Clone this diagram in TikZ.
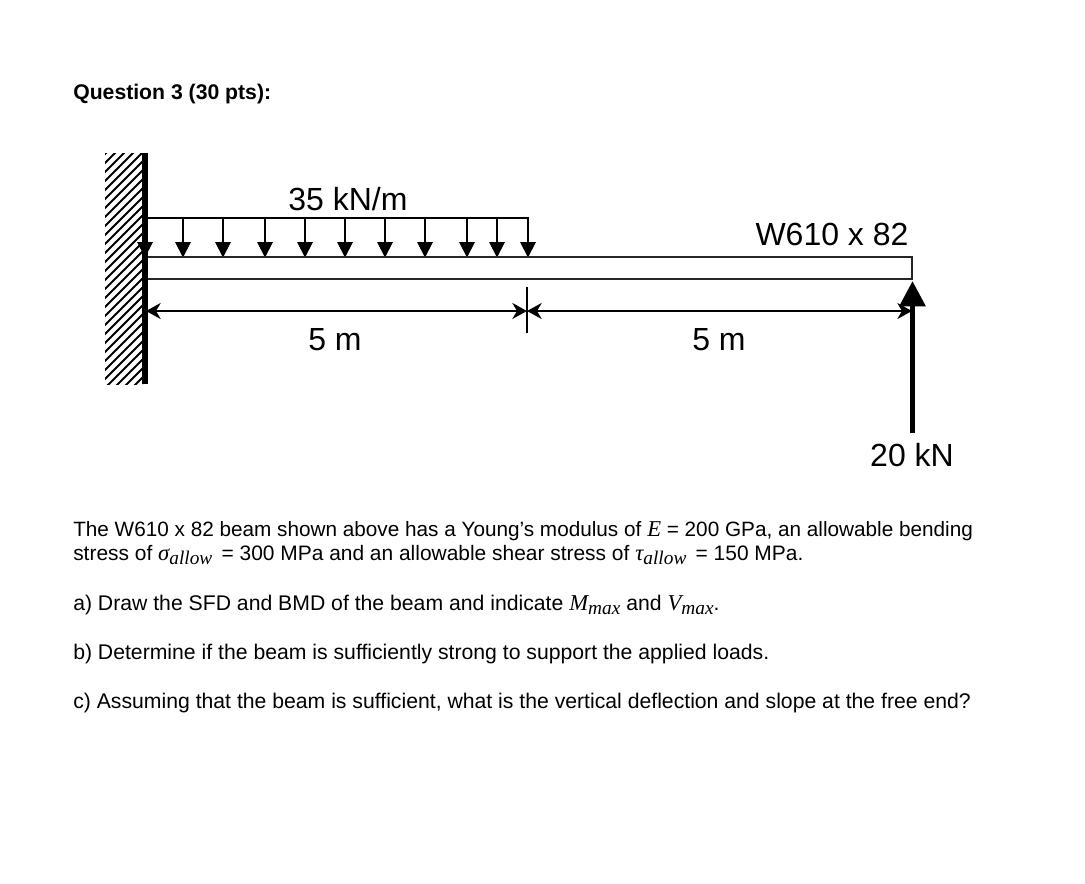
\documentclass[tikz,border=0pt]{standalone}
\usepackage{amsmath}
\usepackage{fontspec}
\setmainfont{Liberation Sans}
\newfontfamily\symfont{Liberation Serif}
\usetikzlibrary{arrows.meta}
\newcommand{\qsym}[2]{{\symfont\itshape\fontsize{17}{18}\selectfont #1\raisebox{-3pt}{\fontsize{14.5}{15}\selectfont #2}}}
\tikzset{
  bodytext/.style={anchor=base west,inner sep=0pt,font=\fontsize{15.9}{18}\selectfont},
  figlabel/.style={anchor=base,inner sep=0pt,font=\fontsize{24}{28}\selectfont},
  beamline/.style={line width=1.4pt,black!85},
  loadline/.style={line width=1.4pt,-{Triangle[length=11.5pt,width=11.5pt]}},
  dimline/.style={line width=1.4pt,{Stealth[length=11pt,width=12pt,inset=3.5pt]}-{Stealth[length=11pt,width=12pt,inset=3.5pt]}},
}
\begin{document}
\begin{tikzpicture}[x=0.75pt,y=-0.75pt]
\useasboundingbox (0,0) rectangle (1085,883);
% Wall
\begin{scope}
\clip (105,153) rectangle (143,384);
\foreach \y in {150,159,...,430} {
  \draw[line width=1.5pt] (100,\y) -- (150,\y-50);
}
\end{scope}
% Named points
\coordinate (walltop) at (145,153);
\coordinate (wallbot) at (145,384);
\coordinate (loadleft) at (147,218);
\coordinate (loadright) at (528,218);
\coordinate (beamtl) at (147,257);
\coordinate (beamtr) at (912,257);
\coordinate (beambr) at (912,279);
\coordinate (beambl) at (147,279);
\coordinate (dimleft) at (146,311);
\coordinate (dimmid) at (527,311);
\coordinate (dimright) at (912,311);
\coordinate (ticktop) at (527,287);
\coordinate (tickbot) at (527,333);
\coordinate (forcetail) at (912.5,433);
\coordinate (forcetip) at (912.5,281);
% Distributed load
\foreach \x in {145,183,223,265,305,345,385,425,467,497,528} {
  \draw[loadline] (\x,218) -- (\x,257.5);
}
\draw[line width=1.4pt,line cap=rect] (loadleft) -- (loadright);
% Beam
\draw[beamline] (beamtl) -- (beamtr) -- (beambr) -- (beambl);
\draw[line width=3.8pt] (walltop) -- (wallbot);
% Dimensions
\draw[dimline] (dimleft) -- (dimmid);
\draw[dimline] (dimmid) -- (dimright);
\draw[line width=1pt] (ticktop) -- (tickbot);
% End force
\draw[line width=3.8pt,-{Triangle[length=19pt,width=19pt]}] (forcetail) -- (forcetip);
% Figure labels
\node[figlabel] (load) at (348,210) {35 kN/m};
\node[figlabel] (section) at (832,245) {W610 x 82};
\node[figlabel] (spanone) at (335,350) {5 m};
\node[figlabel] (spantwo) at (719,350) {5 m};
\node[figlabel] (force) at (912,466) {20 kN};
% Question text
\node[bodytext,font=\fontsize{15.9}{18}\selectfont\bfseries] (title) at (73,99) {Question 3 (30 pts):};
\node[bodytext,font=\fontsize{15.55}{18}\selectfont] (lineone) at (73,536) {The W610 x 82 beam shown above has a Young’s modulus of \qsym{E}{} = 200 GPa, an allowable bending};
\node[bodytext,font=\fontsize{15.7}{18}\selectfont] (linetwo) at (73,560) {stress of \qsym{σ}{allow}\, = 300 MPa and an allowable shear stress of \qsym{τ}{allow}\, = 150 MPa.};
\node[bodytext] (parta) at (73,610) {a) Draw the SFD and BMD of the beam and indicate \qsym{M}{max} and \qsym{V}{max}.};
\node[bodytext] (partb) at (73,659) {b) Determine if the beam is sufficiently strong to support the applied loads.};
\node[bodytext] (partc) at (73,708) {c) Assuming that the beam is sufficient, what is the vertical deflection and slope at the free end?};
\end{tikzpicture}
\end{document}
